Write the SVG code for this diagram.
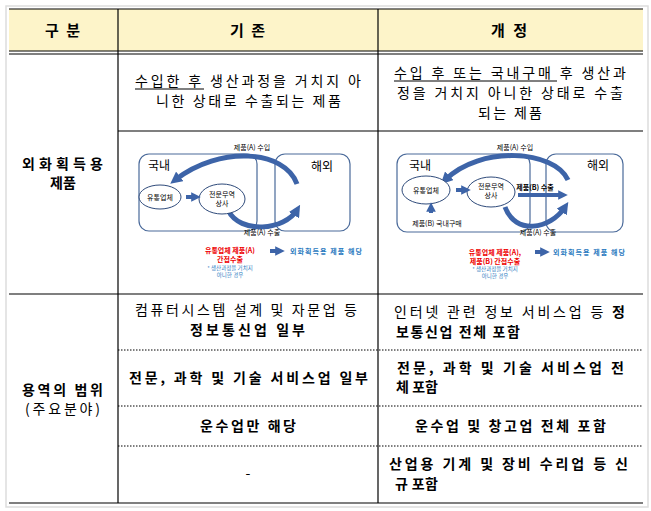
<svg xmlns="http://www.w3.org/2000/svg" width="651" height="511" viewBox="0 0 651 511">
<defs>
<style>
text{font-family:"Noto Sans CJK KR","Noto Sans",sans-serif;fill:#000}
.t{font-size:14px}
.b{font-size:14px;font-weight:bold}
.h{font-size:15px;font-weight:bold}
.s{font-size:7px}
.sb{font-size:7px;font-weight:bold}
.ln{stroke:#000;stroke-width:1.2;fill:none}
.dt{stroke:#000;stroke-width:1;stroke-dasharray:1.5,1.5;fill:none}
.box{fill:none;stroke:#4a6a9a;stroke-width:1.2}
.ell{fill:#fff;stroke:#2e4a7a;stroke-width:1}
.arc{fill:none;stroke:#3d64a8;stroke-width:5}
.red{fill:#e00}
.blu{fill:#2a7ac0}
</style>
<marker id="ah" viewBox="0 0 10 10" refX="5" refY="5" markerWidth="2.4" markerHeight="2.4" orient="auto"><path d="M0,0L10,5L0,10z" fill="#3d64a8"/></marker>
</defs>
<rect x="6" y="6" width="642" height="501" fill="#fff" stroke="#ddd" stroke-width="1.5"/>
<rect x="9" y="9" width="634" height="42" fill="#fdf4c9"/>
<g id="grid">
<line class="ln" x1="9" y1="9" x2="643" y2="9"/>
<line class="ln" x1="9" y1="51" x2="643" y2="51"/>
<line class="ln" x1="9" y1="54" x2="643" y2="54"/>
<line class="ln" x1="118" y1="131" x2="643" y2="131"/>
<line class="ln" x1="9" y1="294" x2="643" y2="294"/>
<line class="dt" x1="118" y1="350" x2="643" y2="350"/>
<line class="dt" x1="118" y1="406" x2="643" y2="406"/>
<line class="dt" x1="118" y1="446" x2="643" y2="446"/>
<line class="ln" x1="9" y1="503" x2="643" y2="503"/>
<line class="ln" x1="118" y1="9" x2="118" y2="503"/>
<line class="ln" x1="378" y1="9" x2="378" y2="503"/>
</g>
<g id="header">
<text class="h" x="45" y="36" textLength="35" lengthAdjust="spacing">구 분</text>
<text class="h" x="230" y="36" textLength="35" lengthAdjust="spacing">기 존</text>
<text class="h" x="491" y="36" textLength="36" lengthAdjust="spacing">개 정</text>
</g>
<g id="row1">
<text class="t" x="135" y="86" textLength="226" lengthAdjust="spacing">수입한 후 생산과정을 거치지 아</text>
<line x1="135" y1="89" x2="204" y2="89" stroke="#000"/>
<text class="t" x="156" y="106" textLength="185" lengthAdjust="spacing">니한 상태로 수출되는 제품</text>
<text class="t" x="394" y="78" textLength="232" lengthAdjust="spacing">수입 후 또는 국내구매 후 생산과</text>
<line x1="394" y1="81" x2="557" y2="81" stroke="#000"/>
<text class="t" x="397" y="98" textLength="226" lengthAdjust="spacing">정을 거치지 아니한 상태로 수출</text>
<text class="t" x="478" y="118" textLength="64" lengthAdjust="spacing">되는 제품</text>
<text class="b" x="22" y="169" textLength="81" lengthAdjust="spacing">외화획득용</text>
<text class="b" x="63" y="188" text-anchor="middle">제품</text>
</g>
<g id="diagA">
<rect class="box" x="139" y="154" width="118" height="77" rx="10"/>
<rect class="box" x="275" y="154" width="75" height="77" rx="10"/>
<text x="148" y="170" font-size="12">국내</text>
<text x="311" y="171" font-size="12">해외</text>
<path class="arc" d="M297,184 C285,150 220,145 175,180" marker-end="url(#ah)"/>
<path class="arc" d="M228,210 C240,235 285,230 297,210" marker-end="url(#ah)"/>
<ellipse class="ell" cx="160" cy="197" rx="21" ry="12"/>
<ellipse class="ell" cx="222" cy="199" rx="23" ry="15"/>
<text class="s" x="160" y="200" text-anchor="middle">유통업체</text>
<text class="s" x="222" y="197" text-anchor="middle">전문무역</text>
<text class="s" x="222" y="206" text-anchor="middle">상사</text>
<path d="M186,197 h10" stroke="#3d64a8" stroke-width="4" marker-end="url(#ah)"/>
<text class="s" x="252" y="150" text-anchor="middle">제품(A) 수입</text>
<text class="s" x="262" y="235" text-anchor="middle">제품(A) 수출</text>
<text class="sb red" x="230" y="253" text-anchor="middle">유통업체 제품(A)</text>
<text class="sb red" x="230" y="262" text-anchor="middle">간접수출</text>
<text class="blu" x="230" y="270" font-size="5.5" text-anchor="middle">* 생산과정을 거치지</text>
<text class="blu" x="230" y="277" font-size="5.5" text-anchor="middle">아니한 경우</text>
<path d="M270,251 h10" stroke="#3d64a8" stroke-width="4" marker-end="url(#ah)"/>
<text class="sb blu" x="290" y="254" textLength="72" lengthAdjust="spacing">외화획득용 제품 해당</text>
</g>
<g id="diagB">
<rect class="box" x="397" y="154" width="133" height="78" rx="10"/>
<rect class="box" x="546" y="154" width="77" height="78" rx="10"/>
<text x="409" y="170" font-size="12">국내</text>
<text x="587" y="170" font-size="12">해외</text>
<path class="arc" d="M568,180 C555,150 480,145 445,180" marker-end="url(#ah)"/>
<path class="arc" d="M505,207 C515,235 550,230 565,207" marker-end="url(#ah)"/>
<path d="M518,195 h45" stroke="#3d64a8" stroke-width="4" marker-end="url(#ah)"/>
<ellipse class="ell" cx="426" cy="190" rx="24" ry="14"/>
<ellipse class="ell" cx="491" cy="192" rx="24" ry="15"/>
<text class="s" x="426" y="193" text-anchor="middle">유통업체</text>
<text class="s" x="491" y="189" text-anchor="middle">전문무역</text>
<text class="s" x="491" y="198" text-anchor="middle">상사</text>
<path d="M456,190 h10" stroke="#3d64a8" stroke-width="4" marker-end="url(#ah)"/>
<path d="M431,213 v-6" stroke="#3d64a8" stroke-width="4" marker-end="url(#ah)"/>
<text class="s" x="437" y="226" text-anchor="middle">제품(B) 국내구매</text>
<text class="s" x="515" y="150" text-anchor="middle">제품(A) 수입</text>
<text class="sb" x="535" y="190" text-anchor="middle">제품(B) 수출</text>
<text class="s" x="538" y="235" text-anchor="middle">제품(A) 수출</text>
<text class="sb red" x="495" y="255" text-anchor="middle">유통업체 제품(A),</text>
<text class="sb red" x="495" y="264" text-anchor="middle">제품(B) 간접수출</text>
<text class="blu" x="495" y="271" font-size="5.5" text-anchor="middle">* 생산과정을 거치지</text>
<text class="blu" x="495" y="278" font-size="5.5" text-anchor="middle">아니한 경우</text>
<path d="M535,252 h10" stroke="#3d64a8" stroke-width="4" marker-end="url(#ah)"/>
<text class="sb blu" x="553" y="255" textLength="72" lengthAdjust="spacing">외화획득용 제품 해당</text>
</g>
<g id="row3">
<text class="b" x="22" y="395" textLength="81" lengthAdjust="spacing">용역의 범위</text>
<text class="t" x="25" y="414" textLength="75" lengthAdjust="spacing">(주요분야)</text>
<text class="t" x="135" y="315" font-size="13.5" textLength="222" lengthAdjust="spacing">컴퓨터시스템 설계 및 자문업 등</text>
<text class="b" x="190" y="335" font-size="13.5" textLength="115" lengthAdjust="spacing">정보통신업 일부</text>
<text class="b" x="129" y="383" textLength="239" lengthAdjust="spacing">전문, 과학 및 기술 서비스업  일부</text>
<text class="b" x="200" y="431" textLength="96" lengthAdjust="spacing">운수업만 해당</text>
<text class="t" x="248" y="478" text-anchor="middle">-</text>
<text class="t" x="394" y="317" font-size="13.5" textLength="231" lengthAdjust="spacing">인터넷 관련 정보 서비스업 등 <tspan font-weight="bold">정</tspan></text>
<text class="b" x="396" y="337" font-size="13.5" textLength="124" lengthAdjust="spacing">보통신업 전체 포함</text>
<text class="b" x="397" y="373" textLength="227" lengthAdjust="spacing">전문, 과학 및 기술 서비스업  전</text>
<text class="b" x="396" y="392" textLength="42" lengthAdjust="spacing">체 포함</text>
<text class="b" x="415" y="431" textLength="191" lengthAdjust="spacing">운수업 및 창고업 전체 포함</text>
<text class="b" x="389" y="469" font-size="13.5" textLength="239" lengthAdjust="spacing">산업용 기계 및 장비 수리업 등  신</text>
<text class="b" x="395" y="489" font-size="13.5" textLength="43" lengthAdjust="spacing">규 포함</text>
</g>
</svg>
